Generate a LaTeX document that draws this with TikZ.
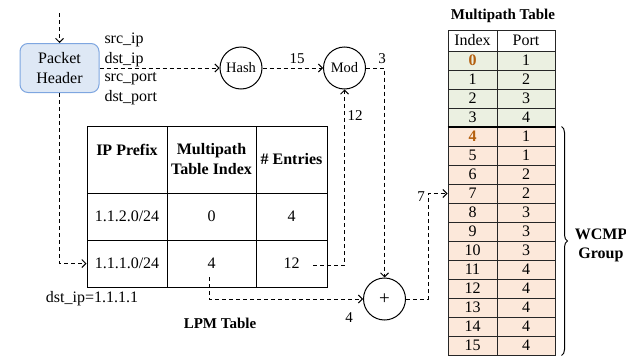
\documentclass[tikz,border=0pt]{standalone}
\usepackage{fontspec}
\setmainfont{Liberation Serif}
\usetikzlibrary{arrows.meta,decorations.pathreplacing,calc}
\definecolor{hdrfill}{HTML}{DEE8F5}
\definecolor{hdrline}{HTML}{7EA6E0}
\definecolor{grnrow}{HTML}{EBF0E1}
\definecolor{pchrow}{HTML}{FCE8DA}
\definecolor{idxhl}{HTML}{B4600F}
\newcommand\hlidx[1]{\textcolor{idxhl}{\textbf{#1}}}

\begin{document}
\begin{tikzpicture}[x=1pt,y=-1pt,line width=1pt,
  txt/.style={font=\fontsize{16}{19}\selectfont,inner sep=1pt},
  lbl/.style={font=\fontsize{15}{18}\selectfont,inner sep=1pt},
  title/.style={font=\fontsize{15}{18}\selectfont\bfseries,inner sep=1pt},
  flow/.style={dash pattern=on 4pt off 3pt,-{Straight Barb[length=4pt,width=8pt]}},
  op/.style={circle,draw,minimum size=42pt,inner sep=0pt,font=\fontsize{14.5}{17}\selectfont},
  pkt/.style={draw=hdrline,fill=hdrfill,rounded corners=8pt,minimum width=79pt,minimum height=49pt,
    align=center,inner sep=0pt,font=\fontsize{16}{20}\selectfont},
  lcell/.style={draw,minimum width=#1,inner sep=0pt,align=center,font=\fontsize{16}{20}\selectfont},
  mcell/.style={draw=black!85,minimum width=#1,minimum height=19pt,inner sep=0pt,font=\fontsize{16}{18}\selectfont},
]
\useasboundingbox (0,0) rectangle (626,356);

% packet header and its fields
\node[pkt] (ph) at (59.5,68) {Packet\\Header};
\coordinate (src) at (59.5,13);
\node[txt,anchor=west] (f1) at (103,40) {src\_ip};
\node[txt,anchor=west] (f2) at (103,60) {dst\_ip};
\node[txt,anchor=west] (f3) at (103,79) {src\_port};
\node[txt,anchor=west] (f4) at (103,98) {dst\_port};

% operators
\node[op] (hash) at (241,68) {Hash};
\node[op] (mod) at (344.5,68) {Mod};
\node[op,font=\fontsize{19}{20}\selectfont] (plus) at (384.5,299) {+};

% LPM table
\node[lcell=80pt,minimum height=67pt] (hA) at (127,159.5) {\textbf{IP Prefix}\\\phantom{X}};
\node[lcell=89pt,minimum height=67pt] (hB) at (211.5,159.5) {\textbf{Multipath}\\\textbf{Table Index}};
\node[lcell=71pt,minimum height=67pt] (hC) at (291.5,159.5) {\textbf{\# Entries}};
\node[lcell=80pt,minimum height=47pt] (aA) at (127,216.5) {1.1.2.0/24};
\node[lcell=89pt,minimum height=47pt] (aB) at (211.5,216.5) {0};
\node[lcell=71pt,minimum height=47pt] (aC) at (291.5,216.5) {4};
\node[lcell=80pt,minimum height=47pt] (bA) at (127,263.5) {1.1.1.0/24};
\node[lcell=89pt,minimum height=47pt] (bB) at (211.5,263.5) {4};
\node[lcell=71pt,minimum height=47pt] (bC) at (291.5,263.5) {12};
\node[txt] (dip) at (92,299) {dst\_ip=1.1.1.1};
\node[title] (lpm) at (220,323) {LPM Table};

% multipath table
\node[title] (mpt) at (503,16) {Multipath Table};
\node[mcell=49pt,minimum height=21pt] (hidx) at (472.5,40.5) {Index};
\node[mcell=58pt,minimum height=21pt] (hprt) at (526,40.5) {Port};
\foreach \i/\p/\f/\t in {0/1/grnrow/{\hlidx{0}},1/2/grnrow/1,2/3/grnrow/2,3/4/grnrow/3,
    4/1/pchrow/{\hlidx{4}},5/1/pchrow/5,6/2/pchrow/6,7/2/pchrow/7,8/3/pchrow/8,9/3/pchrow/9,
    10/3/pchrow/10,11/4/pchrow/11,12/4/pchrow/12,13/4/pchrow/13,14/4/pchrow/14,15/4/pchrow/15}{
  \node[mcell=49pt,fill=\f] (idx\i) at (472.5,{60.5+19*\i}) {\t};
  \node[mcell=58pt,fill=\f] (prt\i) at (526,{60.5+19*\i}) {\p};
}
\draw[line width=2pt] (idx4.north west) -- (prt4.north east);
\draw[decorate,decoration={brace,amplitude=6pt}]
  ([xshift=6pt]prt4.north east) -- ([xshift=6pt]prt15.south east);
\node[txt,font=\fontsize{16}{19}\selectfont\bfseries,align=center] (wcmp) at (601,245.5) {WCMP\\Group};

% data flow
\coordinate (s12) at (313,265);
\coordinate (s4) at (209,277);
\coordinate (c7) at (428,299);
\draw[flow] (src) -- (ph.north);
\draw[flow] (ph.east) -- (hash.west);
\draw[flow] (hash.east) -- (mod.west);
\draw[flow] (mod.east) -| (plus.north);
\draw[flow] (s12) -| (mod.south);
\draw[flow] (ph.south) |- (bA.west);
\draw[flow] (s4) |- (plus.west);
\draw[flow] (plus.east) -- (c7) |- (idx7.west);

% values carried on the connectors
\node[lbl] (v15) at (297,59) {15};
\node[lbl] (v3) at (382,59) {3};
\node[lbl] (v12) at (355,116) {12};
\node[lbl] (v4) at (349,318) {4};
\node[lbl] (v7) at (421,197) {7};
\end{tikzpicture}
\end{document}
